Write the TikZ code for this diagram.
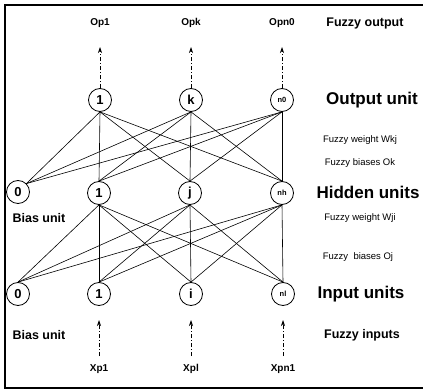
\documentclass[tikz,border=0pt]{standalone}
\usepackage{fontspec}
\setmainfont{Liberation Sans}
\usetikzlibrary{arrows.meta}
\begin{document}
\begin{tikzpicture}[x=1pt,y=-1pt,
  unit/.style={circle,draw,line width=0.8pt,minimum size=23pt,inner sep=0pt,font=\bfseries\fontsize{13}{13}\selectfont},
  smallunit/.style={unit,font=\bfseries\fontsize{7.5}{7.5}\selectfont},
  link/.style={line width=0.6pt},
  flow/.style={line width=0.7pt,dash pattern=on 4pt off 2pt on 1pt off 2pt,-{Stealth[length=6pt,width=4pt]}},
  biglabel/.style={font=\bfseries\fontsize{17}{17}\selectfont},
  midlabel/.style={font=\bfseries\fontsize{12.5}{12.5}\selectfont},
  smalllabel/.style={font=\fontsize{9.5}{9.5}\selectfont},
  iolabel/.style={font=\bfseries\fontsize{10}{10}\selectfont}]
\useasboundingbox (0,0) rectangle (423,390);
% frame
\draw[line width=1.2pt] (423,5) -- (5,5) -- (5,388) -- (423,388);

% output layer
\node[unit] (o1) at (100,100) {1};
\node[unit] (ok) at (191,100) {k};
\node[smallunit] (on) at (282,100) {n0};
% hidden layer
\node[unit] (h0) at (18,192) {0};
\node[unit] (h1) at (99,193) {1};
\node[unit] (hj) at (190,193) {j};
\node[smallunit] (hn) at (282,193) {nh};
% input layer
\node[unit] (i0) at (18,294) {0};
\node[unit] (i1) at (99,294) {1};
\node[unit] (ii) at (191,294) {i};
\node[smallunit] (in) at (283,294) {nl};

% hidden -> output weights
\foreach \o in {o1,ok,on}{
  \draw[link] (h0.north east) -- (\o.south);
  \foreach \h in {h1,hj,hn}
    \draw[link] (\h.north) -- (\o.south);
}
% input -> hidden weights
\foreach \h in {h1,hj,hn}{
  \foreach \i in {i0,i1,ii,in}
    \draw[link] (\i.north) -- (\h.south);
}

% outputs
\node[iolabel] (op1) at (100,23) {Op1};
\node[iolabel] (opk) at (191,23) {Opk};
\node[iolabel] (opn) at (282,23) {Opn0};
\coordinate (t1) at (100,47);
\coordinate (tk) at (191,47);
\coordinate (tn) at (282,47);
\draw[flow] (o1.north) -- (t1);
\draw[flow] (ok.north) -- (tk);
\draw[flow] (on.north) -- (tn);

% inputs
\node[iolabel] (xp1) at (99,369) {Xp1};
\node[iolabel] (xpi) at (191,369) {Xpl};
\node[iolabel] (xpn) at (283,369) {Xpn1};
\coordinate (s1) at (99,356);
\coordinate (si) at (191,356);
\coordinate (sn) at (283,356);
\coordinate (e1) at (99,320);
\coordinate (ei) at (191,320);
\coordinate (en) at (283,320);
\draw[flow] (s1) -- (e1);
\draw[flow] (si) -- (ei);
\draw[flow] (sn) -- (en);

% side labels
\node[midlabel] (lfo) at (365,23) {Fuzzy output};
\node[biglabel] (lou) at (372,100) {Output unit};
\node[smalllabel] (lwk) at (360,140) {Fuzzy weight Wkj};
\node[smalllabel] (lbk) at (360,163) {Fuzzy biases Ok};
\node[biglabel] (lhu) at (368,192) {Hidden units};
\node[smalllabel] (lwj) at (360,218) {Fuzzy weight Wji};
\node[smalllabel] (lbj) at (358,257) {Fuzzy\ \ biases Oj};
\node[biglabel] (liu) at (361,294) {Input units};
\node[midlabel] (lfi) at (362,335) {Fuzzy inputs};
\node[midlabel] (lbh) at (39,218) {Bias unit};
\node[midlabel] (lbi) at (39,335) {Bias unit};
\end{tikzpicture}
\end{document}
